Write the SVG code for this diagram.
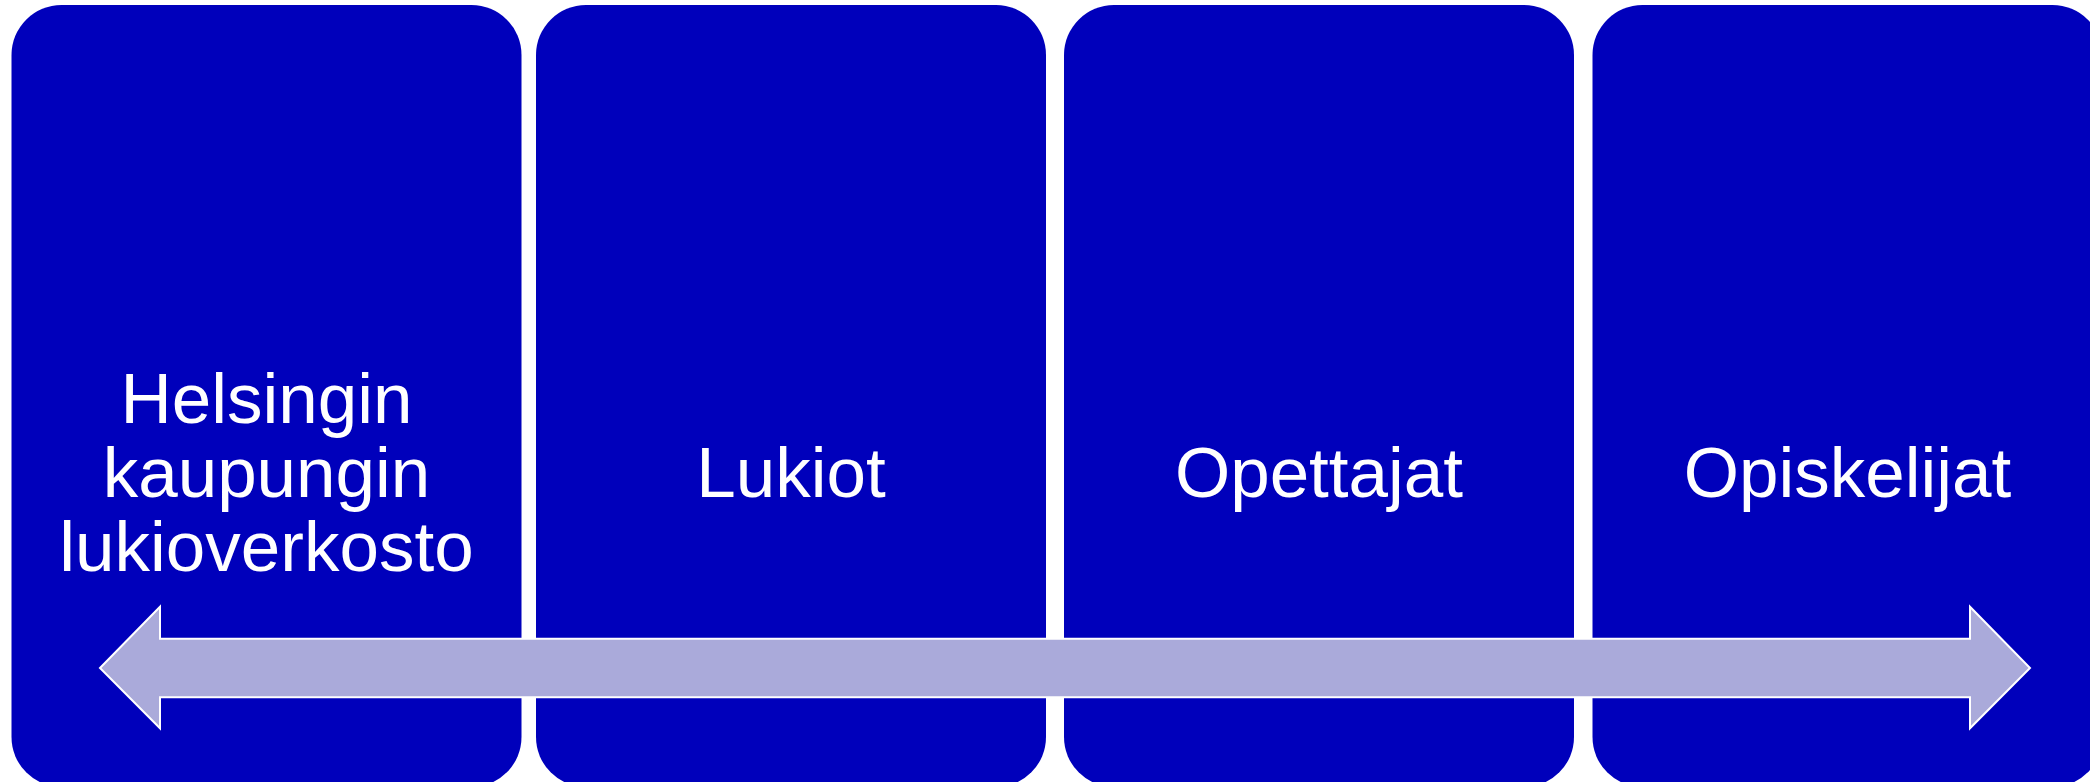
<svg xmlns="http://www.w3.org/2000/svg" width="2090" height="782" viewBox="0 0 2090 782">
  <style>
    .box { fill: #0000BB; }
    .lbl { fill: #FFFFFF; font-family: "Liberation Sans", Arial, sans-serif; font-size: 71px; text-anchor: middle; }
    .arrow { fill: #AAAADA; stroke: #FFFFFF; stroke-width: 2; stroke-linejoin: miter; }
  </style>
  <rect width="2090" height="782" fill="#FFFFFF"/>
  <g id="node1">
    <rect class="box" x="11.5" y="5" width="510" height="782" rx="50" ry="50"/>
    <text class="lbl" x="266.5" y="423">Helsingin</text>
    <text class="lbl" x="266.5" y="497">kaupungin</text>
    <text class="lbl" x="266.5" y="571">lukioverkosto</text>
  </g>
  <g id="node2">
    <rect class="box" x="536" y="5" width="510" height="782" rx="50" ry="50"/>
    <text class="lbl" x="791" y="497">Lukiot</text>
  </g>
  <g id="node3">
    <rect class="box" x="1064" y="5" width="510" height="782" rx="50" ry="50"/>
    <text class="lbl" x="1319" y="497">Opettajat</text>
  </g>
  <g id="node4">
    <rect class="box" x="1592.5" y="5" width="510" height="782" rx="50" ry="50"/>
    <text class="lbl" x="1847.5" y="497">Opiskelijat</text>
  </g>
  <g id="connectors">
    <polygon class="arrow" points="100,668 160,606.7 160,638.7 1970,638.7 1970,606.7 2030,668 1970,728.3 1970,697.3 160,697.3 160,728.3"/>
  </g>
</svg>
